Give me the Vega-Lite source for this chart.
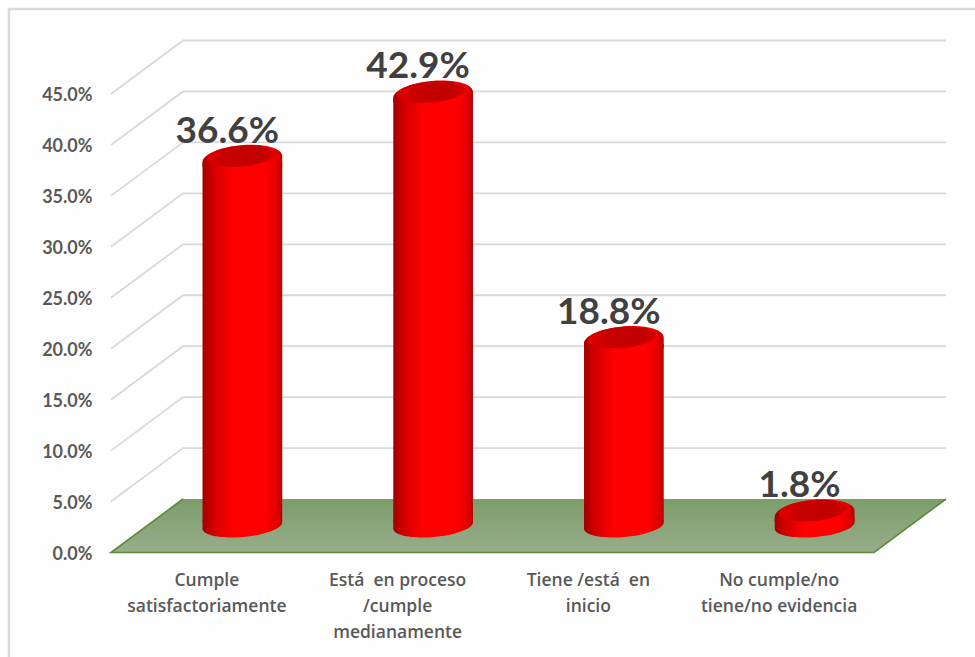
{
  "$schema": "https://vega.github.io/schema/vega-lite/v6.json",
  "width": 835,
  "height": 512.5,
  "autosize": {"type": "none"},
  "padding": {"left": 111, "top": 40, "right": 29, "bottom": 104.5},
  "background": "#fefefe",
  "view": {"stroke": null},
  "datasets": {
    "resultados": [
      {"orden": 1, "categoria": "Cumple satisfactoriamente", "valor": 0.366},
      {"orden": 2, "categoria": "Está en proceso /cumple medianamente", "valor": 0.429},
      {"orden": 3, "categoria": "Tiene /está en inicio", "valor": 0.188},
      {"orden": 4, "categoria": "No cumple/no tiene/no evidencia", "valor": 0.018}
    ],
    "pared": [
      {"nivel": 0.05, "px": 0.5, "py": 0.05}, {"nivel": 0.05, "px": 0.8775, "py": 0.1025}, {"nivel": 0.05, "px": 4.8775, "py": 0.1025},
      {"nivel": 0.10, "px": 0.5, "py": 0.10}, {"nivel": 0.10, "px": 0.8775, "py": 0.1525}, {"nivel": 0.10, "px": 4.8775, "py": 0.1525},
      {"nivel": 0.15, "px": 0.5, "py": 0.15}, {"nivel": 0.15, "px": 0.8775, "py": 0.2025}, {"nivel": 0.15, "px": 4.8775, "py": 0.2025},
      {"nivel": 0.20, "px": 0.5, "py": 0.20}, {"nivel": 0.20, "px": 0.8775, "py": 0.2525}, {"nivel": 0.20, "px": 4.8775, "py": 0.2525},
      {"nivel": 0.25, "px": 0.5, "py": 0.25}, {"nivel": 0.25, "px": 0.8775, "py": 0.3025}, {"nivel": 0.25, "px": 4.8775, "py": 0.3025},
      {"nivel": 0.30, "px": 0.5, "py": 0.30}, {"nivel": 0.30, "px": 0.8775, "py": 0.3525}, {"nivel": 0.30, "px": 4.8775, "py": 0.3525},
      {"nivel": 0.35, "px": 0.5, "py": 0.35}, {"nivel": 0.35, "px": 0.8775, "py": 0.4025}, {"nivel": 0.35, "px": 4.8775, "py": 0.4025},
      {"nivel": 0.40, "px": 0.5, "py": 0.40}, {"nivel": 0.40, "px": 0.8775, "py": 0.4525}, {"nivel": 0.40, "px": 4.8775, "py": 0.4525},
      {"nivel": 0.45, "px": 0.5, "py": 0.45}, {"nivel": 0.45, "px": 0.8775, "py": 0.5025}, {"nivel": 0.45, "px": 4.8775, "py": 0.5025}
    ],
    "piso": [
      {"px": 0.5, "bajo": 0, "alto": 0},
      {"px": 0.8775, "bajo": 0, "alto": 0.0525},
      {"px": 4.5, "bajo": 0, "alto": 0.0525},
      {"px": 4.8775, "bajo": 0.0525, "alto": 0.0525}
    ],
    "bordePiso": [
      {"paso": 1, "px": 0.8775, "py": 0.0525},
      {"paso": 2, "px": 0.5, "py": 0},
      {"paso": 3, "px": 4.5, "py": 0},
      {"paso": 4, "px": 4.8775, "py": 0.0525}
    ],
    "marco": [
      {"paso": 1, "px": -0.035, "py": -0.103},
      {"paso": 2, "px": -0.035, "py": 0.5335},
      {"paso": 3, "px": 5.03, "py": 0.5335}
    ]
  },
  "encoding": {
    "x": {
      "type": "quantitative",
      "scale": {"domain": [0.5, 4.8775], "nice": false, "zero": false, "padding": 0}
    },
    "y": {
      "type": "quantitative",
      "scale": {"domain": [0, 0.503], "nice": false}
    }
  },
  "layer": [
    {
      "data": {"name": "marco"},
      "mark": {"type": "line", "stroke": "#d9d9d9", "strokeWidth": 2.5, "clip": false},
      "encoding": {
        "x": {
          "field": "px", "type": "quantitative",
          "axis": {
            "orient": "bottom", "title": null, "domain": false, "ticks": false, "grid": false,
            "values": [1, 2, 3, 4],
            "labelFont": "Open Sans", "labelFontSize": 17.5, "labelFontWeight": 600, "labelColor": "#595959",
            "labelPadding": 19, "labelLineHeight": 26, "labelFlush": false, "labelOverlap": false,
            "labelExpr": "datum.value == 1 ? ['Cumple', 'satisfactoriamente'] : datum.value == 2 ? ['Está\u00a0 en proceso', '/cumple', 'medianamente'] : datum.value == 3 ? ['Tiene /está\u00a0 en', 'inicio'] : ['No cumple/no', 'tiene/no evidencia']"
          }
        },
        "y": {
          "field": "py", "type": "quantitative",
          "axis": {
            "orient": "left", "title": null, "domain": false, "ticks": false, "grid": false,
            "values": [0, 0.05, 0.10, 0.15, 0.20, 0.25, 0.30, 0.35, 0.40, 0.45],
            "format": ".1%", "labelFont": "Lato", "labelFontSize": 18, "labelFontWeight": "bold",
            "labelColor": "#595959", "labelPadding": 19, "labelOffset": 1.5, "labelFlush": false, "labelOverlap": false
          }
        },
        "order": {"field": "paso"}
      }
    },
    {
      "data": {"name": "pared"},
      "mark": {"type": "line", "stroke": "#d9d9d9", "strokeWidth": 1.8},
      "encoding": {
        "x": {"field": "px", "type": "quantitative"},
        "y": {"field": "py", "type": "quantitative"},
        "detail": {"field": "nivel"}
      }
    },
    {
      "data": {"name": "piso"},
      "mark": {
        "type": "area",
        "color": {
          "gradient": "linear", "x1": 0, "y1": 0, "x2": 0, "y2": 1,
          "stops": [{"offset": 0, "color": "#7d9d6a"}, {"offset": 1, "color": "#98ad8b"}]
        }
      },
      "encoding": {
        "x": {"field": "px", "type": "quantitative"},
        "y": {"field": "bajo", "type": "quantitative"},
        "y2": {"field": "alto"}
      }
    },
    {
      "data": {"name": "bordePiso"},
      "mark": {"type": "line", "stroke": "#5c8a3c", "strokeWidth": 1.6},
      "encoding": {
        "x": {"field": "px", "type": "quantitative"},
        "y": {"field": "py", "type": "quantitative"},
        "order": {"field": "paso"}
      }
    },
    {
      "data": {"name": "resultados"},
      "layer": [
        {
          "mark": {
            "type": "point", "filled": true, "opacity": 1, "size": 4, "xOffset": 36, "yOffset": -27,
            "shape": "M-39.85,3.5 L-39.85,-6 L39.85,-6 L39.85,-3.5 A40,11.5 -5 0 1 -39.85,3.5 Z",
            "fill": {
              "gradient": "linear", "x1": 0, "y1": 0, "x2": 1, "y2": 0,
              "stops": [
                {"offset": 0, "color": "#a00000"}, {"offset": 0.14, "color": "#d40000"},
                {"offset": 0.38, "color": "#ff0000"}, {"offset": 0.78, "color": "#ff0000"},
                {"offset": 0.92, "color": "#e60000"}, {"offset": 1, "color": "#b80000"}
              ]
            }
          },
          "encoding": {
            "x": {"field": "orden", "type": "quantitative"},
            "y": {"datum": 0, "type": "quantitative"}
          }
        },
        {
          "mark": {
            "type": "bar", "orient": "vertical", "width": 79.7, "xOffset": 36, "yOffset": -17, "y2Offset": -31,
            "fill": {
              "gradient": "linear", "x1": 0, "y1": 0, "x2": 1, "y2": 0,
              "stops": [
                {"offset": 0, "color": "#a00000"}, {"offset": 0.14, "color": "#d40000"},
                {"offset": 0.38, "color": "#ff0000"}, {"offset": 0.78, "color": "#ff0000"},
                {"offset": 0.92, "color": "#e60000"}, {"offset": 1, "color": "#b80000"}
              ]
            }
          },
          "encoding": {
            "x": {"field": "orden", "type": "quantitative"},
            "y": {"field": "valor", "type": "quantitative"},
            "y2": {"datum": 0}
          }
        },
        {
          "mark": {
            "type": "point", "filled": true, "opacity": 1, "size": 4, "xOffset": 36, "yOffset": -20.5,
            "shape": "M-39.85,3.5 A40,14 -5 0 1 39.85,-3.5 L39.85,8 L-39.85,8 Z",
            "fill": {
              "gradient": "linear", "x1": 0, "y1": 0, "x2": 1, "y2": 0,
              "stops": [
                {"offset": 0, "color": "#a00000"}, {"offset": 0.14, "color": "#d40000"},
                {"offset": 0.38, "color": "#ff0000"}, {"offset": 0.78, "color": "#ff0000"},
                {"offset": 0.92, "color": "#e60000"}, {"offset": 1, "color": "#b80000"}
              ]
            }
          },
          "encoding": {
            "x": {"field": "orden", "type": "quantitative"},
            "y": {"field": "valor", "type": "quantitative"}
          }
        },
        {
          "mark": {
            "type": "point", "filled": true, "opacity": 1, "size": 4, "xOffset": 34, "yOffset": -23.5,
            "shape": "M-33.9,3 A34,10.5 -5 1 1 33.9,-3 A34,10.5 -5 1 1 -33.9,3 Z",
            "fill": {
              "gradient": "linear", "x1": 0, "y1": 0, "x2": 1, "y2": 0,
              "stops": [
                {"offset": 0, "color": "#e00000"}, {"offset": 0.3, "color": "#c80000"},
                {"offset": 0.8, "color": "#c00000"}, {"offset": 1, "color": "#d80000"}
              ]
            }
          },
          "encoding": {
            "x": {"field": "orden", "type": "quantitative"},
            "y": {"field": "valor", "type": "quantitative"}
          }
        },
        {
          "mark": {
            "type": "text", "font": "Lato", "fontWeight": "bold", "fontSize": 37,
            "fill": "#404040", "baseline": "alphabetic", "align": "center", "dx": 21, "yOffset": -37
          },
          "encoding": {
            "x": {"field": "orden", "type": "quantitative"},
            "y": {"field": "valor", "type": "quantitative"},
            "text": {"field": "valor", "type": "quantitative", "format": ".1%"}
          }
        }
      ]
    }
  ]
}
